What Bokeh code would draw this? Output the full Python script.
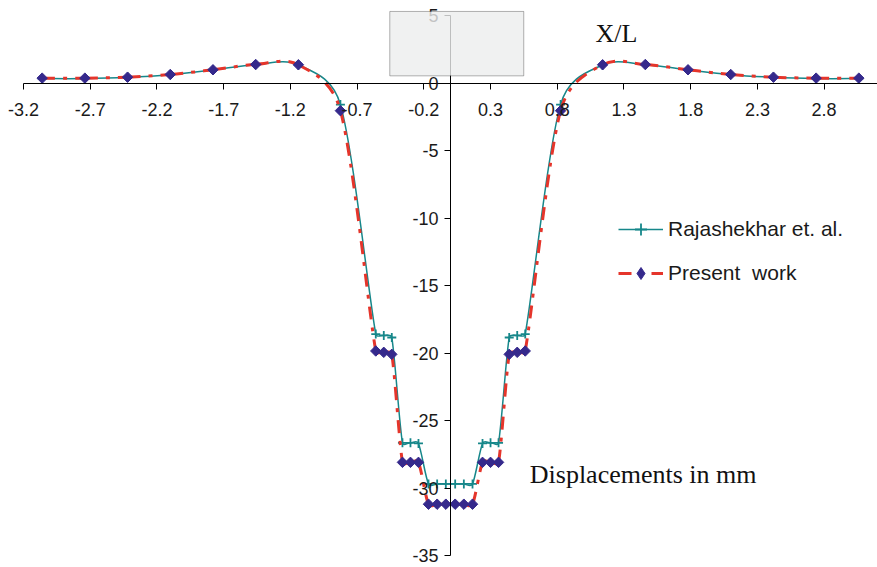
import math
from bokeh.plotting import figure
from bokeh.models import (Range1d, FixedTicker, PrintfTickFormatter, Label,
                          BoxAnnotation, Legend, LegendItem, ColumnDataSource)
from bokeh.embed import file_html
from bokeh.resources import INLINE

# ---------------- data ----------------
x_pos = [-3.06, -2.74, -2.42, -2.10, -1.78, -1.46, -1.14, -0.825,
         -0.56, -0.50, -0.44, -0.36, -0.30, -0.24,
         -0.165, -0.10, -0.035, 0.035, 0.10, 0.165,
         0.24, 0.30, 0.36, 0.44, 0.50, 0.56,
         0.825, 1.14, 1.46, 1.78, 2.10, 2.42, 2.74, 3.06]

present_work = [0.36, 0.36, 0.43, 0.63, 0.98, 1.37, 1.35, -2.05,
                -19.85, -19.95, -20.1, -28.1, -28.1, -28.1,
                -31.2, -31.2, -31.2, -31.2, -31.2, -31.2,
                -28.1, -28.1, -28.1, -20.1, -19.95, -19.85,
                -2.05, 1.35, 1.37, 0.98, 0.63, 0.43, 0.36, 0.36]

rajashekhar = [0.33, 0.33, 0.42, 0.62, 0.97, 1.36, 1.33, -1.6,
               -18.6, -18.7, -18.85, -26.65, -26.65, -26.7,
               -29.7, -29.7, -29.7, -29.7, -29.7, -29.7,
               -26.7, -26.65, -26.65, -18.85, -18.7, -18.6,
               -1.6, 1.33, 1.36, 0.97, 0.62, 0.42, 0.33, 0.33]

x_ticks = [-3.2, -2.7, -2.2, -1.7, -1.2, -0.7, -0.2, 0.3, 0.8, 1.3, 1.8, 2.3, 2.8]
y_ticks = [-35, -30, -25, -20, -15, -10, -5, 0, 5]

series_names = ["Rajashekhar et. al.", "Present  work"]

# ---------------- layout ----------------
W, H = 877, 567
ORIGIN_PX = (450.0, 82.5)      # pixel position of (0, 0)
px_per_x = 133.44
px_per_y = 13.5
X0 = -ORIGIN_PX[0] / px_per_x
X1 = (W - ORIGIN_PX[0]) / px_per_x
Y1 = ORIGIN_PX[1] / px_per_y
Y0 = -(H - ORIGIN_PX[1]) / px_per_y


def smooth_segments(xs, ys):
    """Excel-like smoothed line: cubic Bezier control points per segment,
    computed in screen space."""
    P = [(x * px_per_x, y * px_per_y) for x, y in zip(xs, ys)]
    n = len(P)
    out = {k: [] for k in ["x0", "y0", "x1", "y1", "cx0", "cy0", "cx1", "cy1"]}

    def d(a, b):
        return math.hypot(a[0] - b[0], a[1] - b[1])

    for i in range(n - 1):
        p0 = P[i - 1] if i > 0 else P[i]
        p1 = P[i]
        p2 = P[i + 1]
        p3 = P[i + 2] if i + 2 < n else P[i + 1]
        d12, d02, d13 = d(p1, p2), d(p0, p2), d(p1, p3)
        f1 = 1 / 6
        f2 = 1 / 6
        if d02 > 0 and d02 / 6 > d12 / 2:
            f1 = d12 / (2 * d02)
        if d13 > 0 and d13 / 6 > d12 / 2:
            f2 = d12 / (2 * d13)
        c1 = (p1[0] + f1 * (p2[0] - p0[0]), p1[1] + f1 * (p2[1] - p0[1]))
        c2 = (p2[0] - f2 * (p3[0] - p1[0]), p2[1] - f2 * (p3[1] - p1[1]))
        out["x0"].append(p1[0] / px_per_x); out["y0"].append(p1[1] / px_per_y)
        out["x1"].append(p2[0] / px_per_x); out["y1"].append(p2[1] / px_per_y)
        out["cx0"].append(c1[0] / px_per_x); out["cy0"].append(c1[1] / px_per_y)
        out["cx1"].append(c2[0] / px_per_x); out["cy1"].append(c2[1] / px_per_y)
    return ColumnDataSource(out)


p = figure(width=W, height=H, output_backend="svg", toolbar_location=None,
           x_range=Range1d(X0, X1), y_range=Range1d(Y0, Y1),
           min_border_left=0, min_border_right=0,
           min_border_top=0, min_border_bottom=0)
p.outline_line_color = None
p.xgrid.visible = False
p.ygrid.visible = False
p.background_fill_color = "white"

TEAL = "#16878A"
RED = "#E5352B"
NAVY = "#35298C"

# Rajashekhar (teal smooth line with + markers)
src_r = smooth_segments(x_pos, rajashekhar)
r_line = p.bezier(x0="x0", y0="y0", x1="x1", y1="y1", cx0="cx0", cy0="cy0",
                  cx1="cx1", cy1="cy1", source=src_r, line_color=TEAL, line_width=1.5)
r_pts = p.scatter(x_pos, rajashekhar, marker="cross", size=9, line_color=TEAL,
                  line_width=1.8)

# Present work (red dash-dot smooth line with diamonds)
src_p = smooth_segments(x_pos, present_work)
p_line = p.bezier(x0="x0", y0="y0", x1="x1", y1="y1", cx0="cx0", cy0="cy0",
                  cx1="cx1", cy1="cy1", source=src_p, line_color=RED, line_width=3,
                  line_dash="13 8 4 8")
p_pts = p.scatter(x_pos, present_work, marker="square", angle=math.pi / 4, size=7.4,
                  fill_color=NAVY, line_color=NAVY, line_width=1)

# legend-only glyph (the legend does not rotate markers); hidden in the plot
p_leg = p.scatter(x_pos, present_work, marker="diamond", size=13, fill_color=NAVY,
                  line_color=NAVY, line_width=1)
p_leg.visible = False

# axes crossing at origin
for ax in (p.xaxis[0], p.yaxis[0]):
    ax.axis_line_color = "black"
    ax.axis_line_width = 1
    ax.major_tick_line_color = "black"
    ax.major_tick_line_width = 1
    ax.minor_tick_line_color = None
    ax.major_tick_in = 0
    ax.major_tick_out = 6
    ax.major_label_text_font = "Liberation Sans"
    ax.major_label_text_font_size = "18px"
    ax.major_label_text_color = "#1a1a1a"

p.xaxis.fixed_location = 0
p.yaxis.fixed_location = 0
p.xaxis.ticker = FixedTicker(ticks=x_ticks)
p.yaxis.ticker = FixedTicker(ticks=y_ticks)
p.xaxis.formatter = PrintfTickFormatter(format="%.1f")
p.yaxis.formatter = PrintfTickFormatter(format="%d")
p.xaxis.bounds = (-3.2, 3.2)
p.yaxis.bounds = (-35, 5)
p.xaxis.major_label_standoff = 14
p.yaxis.major_label_standoff = 6

# grey box near the top of the y axis
p.add_layout(BoxAnnotation(left=-0.455, right=0.549, bottom=0.53, top=5.3,
                           fill_color="#ECEEED", fill_alpha=0.8,
                           line_color="black", line_width=1))

# texts
p.add_layout(Label(x=1.087, y=3.64, text="X/L", text_font="Liberation Serif",
                   text_font_size="26px", text_color="#111111",
                   text_baseline="alphabetic"))
p.add_layout(Label(x=0.594, y=-28.98, text="Displacements in mm",
                   text_font="Liberation Serif", text_font_size="26px",
                   text_color="#111111", text_baseline="alphabetic"))

legend = Legend(items=[LegendItem(label=series_names[0], renderers=[r_line, r_pts]),
                       LegendItem(label=series_names[1], renderers=[p_line, p_leg])],
                location=(618, 279), orientation="vertical",
                glyph_width=45, glyph_height=30, label_height=24,
                label_standoff=5, spacing=14, padding=0, margin=0,
                label_text_font="Liberation Sans", label_text_font_size="21px",
                label_text_color="#1a1a1a",
                border_line_color=None, background_fill_alpha=0)
p.add_layout(legend)

open("out.html", "w").write(file_html(p, INLINE))
